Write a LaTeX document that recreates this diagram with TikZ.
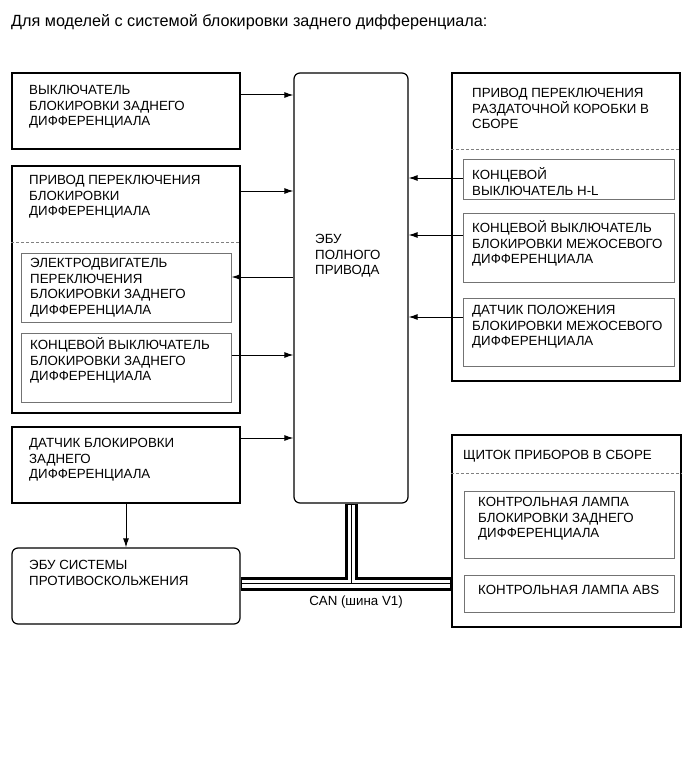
\documentclass[tikz,border=0pt]{standalone}
\usepackage{fontspec}
\setmainfont{Liberation Sans}
\usetikzlibrary{arrows.meta}
\newcommand\tstrut{\rule{0pt}{13pt}}
\begin{document}
\begin{tikzpicture}[x=1pt,y=-1pt,
  outerbox/.style={draw=black, line width=1.2pt, rectangle, inner sep=0pt},
  roundbox/.style={outerbox, rounded corners=6pt},
  innerbox/.style={draw=black!55, line width=1pt, rectangle, inner sep=0pt},
  txt/.style={anchor=north west, inner sep=0pt, align=left, font=\fontsize{13.3}{15.5}\selectfont},
  arr/.style={-{Latex[length=9pt,width=6pt]}, line width=1pt},
  dashln/.style={draw=black!50, line width=0.8pt, dash pattern=on 3pt off 2pt},
]
\useasboundingbox (0,0) rectangle (690,757);

% title
\node[anchor=base west, inner sep=0pt, font=\fontsize{16.2}{19}\selectfont] (title) at (11,26.7) {Для моделей с системой блокировки заднего дифференциала:};

% boxes
\node[outerbox, minimum width=228pt, minimum height=76pt] (A) at (126,111) {};
\node[outerbox, minimum width=228pt, minimum height=247pt] (B) at (126,289.5) {};
\node[innerbox, minimum width=210pt, minimum height=69pt] (B1) at (126,287.5) {};
\node[innerbox, minimum width=210pt, minimum height=69pt] (B2) at (126,367.5) {};
\node[outerbox, minimum width=228pt, minimum height=76pt] (C) at (126,465) {};
\node[roundbox, minimum width=228pt, minimum height=76pt] (D) at (126,586) {};
\node[roundbox, minimum width=114pt, minimum height=430pt] (ecu) at (351,288) {};
\node[outerbox, minimum width=228pt, minimum height=308pt] (E) at (566,227) {};
\node[innerbox, minimum width=211pt, minimum height=40pt] (E1) at (568.5,179) {};
\node[innerbox, minimum width=211pt, minimum height=69pt] (E2) at (568.5,247.5) {};
\node[innerbox, minimum width=211pt, minimum height=68pt] (E3) at (568.5,332) {};
\node[outerbox, minimum width=229pt, minimum height=192pt] (F) at (566.5,531) {};
\node[innerbox, minimum width=210pt, minimum height=67pt] (F1) at (569,524.5) {};
\node[innerbox, minimum width=210pt, minimum height=37pt] (F2) at (569,593.5) {};

% dashed separators
\draw[dashln] (B.west |- 0,242) -- (B.east |- 0,242);
\draw[dashln] (E.west |- 0,149) -- (E.east |- 0,149);
\draw[dashln] (F.west |- 0,473) -- (F.east |- 0,473);

% texts
\node[txt] (tA) at (29,81.65) {\tstrut ВЫКЛЮЧАТЕЛЬ\\БЛОКИРОВКИ ЗАДНЕГО\\ДИФФЕРЕНЦИАЛА};
\node[txt] (tB) at (29,171.65) {\tstrut ПРИВОД ПЕРЕКЛЮЧЕНИЯ\\БЛОКИРОВКИ\\ДИФФЕРЕНЦИАЛА};
\node[txt] (tB1) at (30,254.65) {\tstrut ЭЛЕКТРОДВИГАТЕЛЬ\\ПЕРЕКЛЮЧЕНИЯ\\БЛОКИРОВКИ ЗАДНЕГО\\ДИФФЕРЕНЦИАЛА};
\node[txt] (tB2) at (30,336.65) {\tstrut КОНЦЕВОЙ ВЫКЛЮЧАТЕЛЬ\\БЛОКИРОВКИ ЗАДНЕГО\\ДИФФЕРЕНЦИАЛА};
\node[txt] (tC) at (29,434.65) {\tstrut ДАТЧИК БЛОКИРОВКИ\\ЗАДНЕГО\\ДИФФЕРЕНЦИАЛА};
\node[txt] (tD) at (29,556.65) {\tstrut ЭБУ СИСТЕМЫ\\ПРОТИВОСКОЛЬЖЕНИЯ};
\node[txt] (tecu) at (315,230.65) {\tstrut ЭБУ\\ПОЛНОГО\\ПРИВОДА};
\node[txt] (tE) at (472,84.65) {\tstrut ПРИВОД ПЕРЕКЛЮЧЕНИЯ\\РАЗДАТОЧНОЙ КОРОБКИ В\\СБОРЕ};
\node[txt] (tE1) at (472,166.65) {\tstrut КОНЦЕВОЙ\\ВЫКЛЮЧАТЕЛЬ H-L};
\node[txt] (tE2) at (472,219.65) {\tstrut КОНЦЕВОЙ ВЫКЛЮЧАТЕЛЬ\\БЛОКИРОВКИ МЕЖОСЕВОГО\\ДИФФЕРЕНЦИАЛА};
\node[txt] (tE3) at (472,301.65) {\tstrut ДАТЧИК ПОЛОЖЕНИЯ\\БЛОКИРОВКИ МЕЖОСЕВОГО\\ДИФФЕРЕНЦИАЛА};
\node[txt] (tF) at (463,446.65) {\tstrut ЩИТОК ПРИБОРОВ В СБОРЕ};
\node[txt] (tF1) at (478,493.65) {\tstrut КОНТРОЛЬНАЯ ЛАМПА\\БЛОКИРОВКИ ЗАДНЕГО\\ДИФФЕРЕНЦИАЛА};
\node[txt] (tF2) at (478,581.65) {\tstrut КОНТРОЛЬНАЯ ЛАМПА ABS};

% arrows
\draw[arr] (A.east |- 0,95) -- (ecu.west |- 0,95);
\draw[arr] (B.east |- 0,191) -- (ecu.west |- 0,191);
\draw[arr] (ecu.west |- 0,277) -- (B1.east |- 0,277);
\draw[arr] (B2.east |- 0,355) -- (ecu.west |- 0,355);
\draw[arr] (C.east |- 0,438) -- (ecu.west |- 0,438);
\draw[arr] (C.south) -- (D.north);
\draw[arr] (E1.west |- 0,178) -- (ecu.east |- 0,178);
\draw[arr] (E2.west |- 0,235) -- (ecu.east |- 0,235);
\draw[arr] (E3.west |- 0,317) -- (ecu.east |- 0,317);

% CAN bus
\coordinate (busL) at (D.east |- 0,583.5);
\coordinate (busR) at (F.west |- 0,583.5);
\coordinate (busT) at (ecu.south |- 0,583.5);
\draw[line width=14pt] (busL) -- (busR);
\draw[line width=13pt] (ecu.south) -- (busT);
\draw[white, line width=8pt] ([xshift=1pt]busL) -- ([xshift=-1pt]busR);
\draw[white, line width=7pt] ([yshift=-1pt]ecu.south) -- (busT);
\draw[line width=0.9pt] (busL) -- (busR);
\draw[line width=0.9pt] (ecu.south) -- (busT);
\node[inner sep=0pt, font=\fontsize{13.3}{15.5}\selectfont] (can) at (356,602) {CAN (шина V1)};
\end{tikzpicture}
\end{document}
